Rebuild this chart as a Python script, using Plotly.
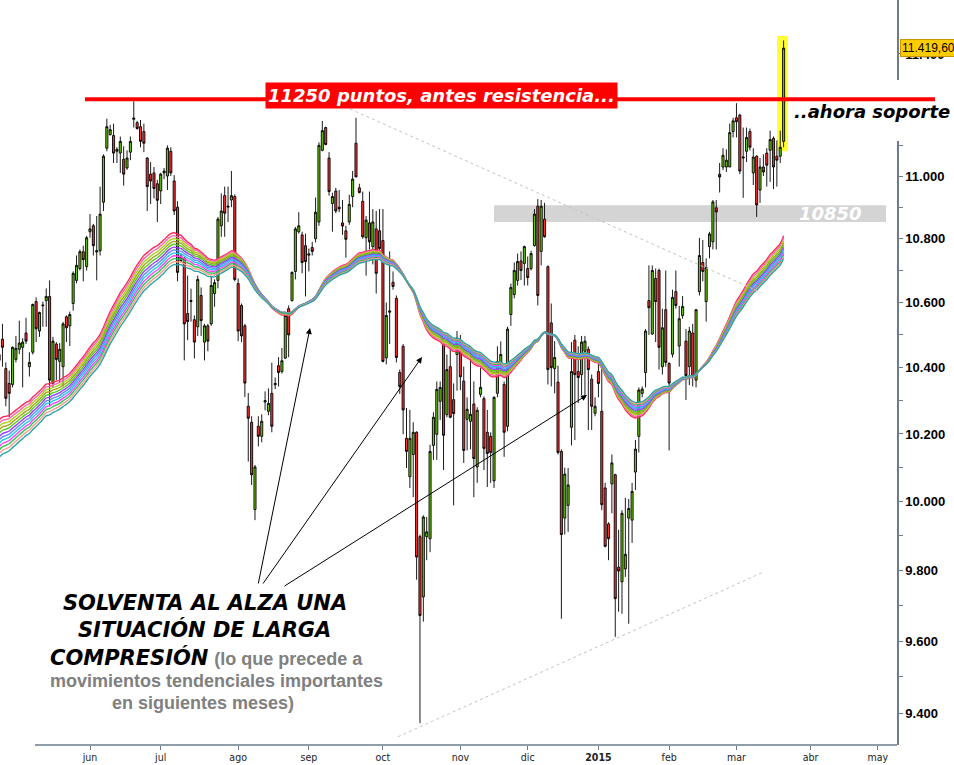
import math
import pandas as pd
import plotly.graph_objects as go

# ---------------- data ----------------
first_session = "2014-04-23"
last_calendar_day = "2015-05-29"
market_holidays = ["2014-05-01", "2014-12-25", "2014-12-26", "2015-01-01",
                   "2015-04-03", "2015-04-06", "2015-05-01"]

open_ = [10440, 10487, 10397, 10352, 10349, 10425, 10456, 10462, 10506, 10403,
         10447, 10603, 10512, 10590, 10606, 10619, 10353, 10472, 10419, 10403,
         10556, 10528, 10597, 10669, 10706, 10759, 10712,
         10822, 10841, 10758, 10762, 10916, 11090, 11134, 11131, 11080, 11074,
         11054, 11026, 11077, 11184, 11173, 11160, 11144, 11058, 11006, 11010,
         10975, 10952, 11010, 11000, 11080, 10984, 10900, 10745, 10738, 10566,
         10603, 10547, 10525, 10622, 10478, 10528, 10534, 10628, 10669, 10841,
         10937, 10900, 10923, 10934, 10659, 10591, 10528, 10283, 10235, 9977,
         10223, 10193, 10296, 10268, 10322, 10348, 10406, 10388, 10429, 10581,
         10606, 10697, 10822, 10812, 10778, 10748, 10772, 10800, 10853, 11083,
         11157, 11058, 10912, 10952, 10900, 10850, 10825, 10853, 10934, 11106,
         10962, 10919, 10803, 10850, 10775, 10831, 10825, 10794, 10430, 10570,
         10663, 10613, 10385, 10465, 10187, 10073, 10139, 10205, 9898, 9725,
         9898, 9892, 10166, 10199, 10298, 10472, 10258, 10403, 10303, 10440,
         10450, 10359, 10244, 10238, 10290, 10102, 10319, 10306, 10205, 10193,
         10061, 10322, 10410, 10349, 10223, 10563, 10625, 10669, 10730, 10722,
         10706, 10706, 10778, 10903, 10760, 10862, 10712, 10537, 10397, 10356,
         10148, 9952, 9989, 10220, 10484, 10388, 10379, 10450, 10456, 10365,
         10262, 10388, 10268, 10040, 9935, 10052, 10079, 9810, 9768, 9805,
         9952, 9946, 10087, 10193, 10322, 10385, 10606, 10503, 10675, 10700,
         10403, 10578, 10413, 10441, 10634, 10466, 10560, 10481, 10403, 10506,
         10362, 10634, 10725, 10603, 10775, 10790, 10898, 11006, 11029, 11029,
         11029, 11144, 11189, 11198, 11058, 11080, 11144, 11010, 11064, 10955,
         11029, 11074, 11083, 11122, 11064, 11064, 11112]
high_ = [10448, 10534, 10416, 10391, 10465, 10497, 10544, 10490, 10553, 10447,
         10597, 10616, 10572, 10603, 10644, 10669, 10494, 10478, 10475, 10540,
         10560, 10572, 10697, 10747, 10766, 10778, 10809,
         10878, 10847, 10872, 10966, 11070, 11186, 11166, 11170, 11093, 11128,
         11096, 11083, 11128, 11243, 11179, 11182, 11170, 11061, 11045, 11029,
         10987, 11010, 11026, 11099, 11093, 11003, 10919, 10752, 10742, 10684,
         10643, 10560, 10684, 10647, 10534, 10534, 10681, 10672, 10869, 10944,
         10966, 10966, 11016, 10941, 10675, 10597, 10534, 10323, 10253, 10108,
         10253, 10259, 10328, 10337, 10415, 10370, 10432, 10460, 10566, 10591,
         10697, 10837, 10884, 10822, 10816, 10769, 10790, 10931, 11109, 11179,
         11160, 11077, 10946, 10962, 10955, 10923, 10841, 10940, 11016, 11189,
         10975, 10950, 10872, 10950, 10894, 10888, 10894, 10894, 10600, 10760,
         10697, 10622, 10394, 10472, 10278, 10272, 10235, 10208, 9904, 9960,
         9955, 10168, 10265, 10358, 10358, 10478, 10440, 10456, 10352, 10512,
         10500, 10403, 10310, 10454, 10358, 10280, 10400, 10313, 10272, 10205,
         10313, 10465, 10480, 10358, 10525, 10659, 10725, 10753, 10760, 10778,
         10744, 10762, 10894, 10926, 10923, 10914, 10716, 10597, 10481, 10406,
         10154, 10100, 10099, 10478, 10500, 10465, 10497, 10497, 10465, 10379,
         10310, 10415, 10412, 10055, 9940, 10139, 10082, 9918, 9975, 10011,
         10008, 10055, 10182, 10340, 10343, 10518, 10716, 10716, 10706, 10706,
         10581, 10700, 10416, 10640, 10700, 10590, 10620, 10518, 10525, 10534,
         10580, 10802, 10796, 10738, 10822, 10923, 10923, 11042, 11090, 11086,
         11170, 11189, 11237, 11202, 11157, 11157, 11154, 11090, 11067, 11058,
         11070, 11090, 11147, 11128, 11115, 11147, 11445]
low_ = [10403, 10403, 10283, 10250, 10340, 10416, 10441, 10340, 10472, 10373,
        10440, 10478, 10494, 10525, 10525, 10283, 10340, 10362, 10353, 10343,
        10478, 10466, 10575, 10660, 10700, 10666, 10700,
        10803, 10747, 10669, 10747, 10888, 11080, 11131, 11042, 11042, 11010,
        10969, 11020, 11051, 11157, 11150, 11093, 11077, 10888, 10910, 10928,
        10853, 10910, 10990, 10955, 11000, 10875, 10666, 10725, 10422, 10484,
        10541, 10428, 10497, 10497, 10422, 10450, 10528, 10587, 10644, 10806,
        10806, 10853, 10900, 10666, 10481, 10478, 10311, 10118, 10049, 9946,
        10163, 10175, 10271, 10256, 10205, 10335, 10343, 10382, 10426, 10432,
        10603, 10672, 10816, 10691, 10619, 10697, 10747, 10788, 10841, 11080,
        11099, 10937, 10822, 10881, 10884, 10812, 10740, 10844, 10900, 10997,
        10944, 10800, 10684, 10766, 10719, 10628, 10747, 10416, 10410, 10472,
        10640, 10416, 10320, 10199, 10099, 10040, 10013, 9774, 9372, 9655,
        9830, 9853, 10123, 10123, 10242, 10093, 10250, 10247, 9989, 10330,
        10332, 10114, 10151, 10154, 10013, 10055, 10310, 10093, 10043, 10055,
        10040, 10310, 10380, 10132, 10208, 10528, 10613, 10653, 10670, 10653,
        10653, 10700, 10775, 10591, 10716, 10803, 10349, 10343, 10322, 10139,
        9663, 9904, 9912, 10166, 10182, 10293, 10317, 10310, 10212, 10212,
        10253, 10310, 9975, 9867, 9830, 9966, 9612, 9683, 9677, 9782,
        9649, 9880, 10034, 10145, 10310, 10340, 10500, 10500, 10478, 10394,
        10379, 10403, 10151, 10431, 10581, 10403, 10550, 10302, 10347, 10343,
        10340, 10622, 10666, 10541, 10738, 10766, 10766, 10947, 11019, 11013,
        11029, 11125, 11125, 11006, 10930, 11045, 11083, 10971, 10869, 10914,
        11000, 10966, 10981, 10958, 10966, 11042, 11093]
close_ = [10422, 10462, 10307, 10322, 10462, 10459, 10475, 10478, 10481, 10416,
          10594, 10519, 10569, 10592, 10619, 10362, 10481, 10425, 10456, 10534,
          10522, 10563, 10691, 10716, 10759, 10734, 10803,
          10831, 10778, 10762, 10878, 11064, 11160, 11150, 11074, 11086, 11112,
          11006, 11058, 11112, 11188, 11154, 11112, 11106, 10966, 10984, 10960,
          10922, 11006, 11016, 11090, 11010, 10888, 10694, 10730, 10534, 10541,
          10606, 10478, 10672, 10544, 10528, 10481, 10653, 10662, 10862, 10888,
          10881, 10903, 10937, 10672, 10512, 10497, 10353, 10247, 10079, 10102,
          10193, 10238, 10300, 10292, 10223, 10352, 10385, 10421, 10560, 10500,
          10694, 10831, 10841, 10725, 10728, 10752, 10760, 10884, 11099, 11147,
          11102, 10950, 10934, 10888, 10895, 10840, 10798, 10909, 10990, 10997,
          10947, 10806, 10859, 10790, 10853, 10691, 10769, 10419, 10560, 10574,
          10650, 10431, 10343, 10272, 10148, 10187, 10205, 9839, 9672, 9955,
          9912, 10148, 10250, 10334, 10340, 10196, 10394, 10250, 10261, 10490,
          10372, 10151, 10274, 10259, 10127, 10271, 10340, 10157, 10142, 10145,
          10310, 10418, 10440, 10205, 10518, 10647, 10700, 10728, 10700, 10775,
          10678, 10753, 10878, 10622, 10903, 10806, 10394, 10400, 10431, 10145,
          9904, 10081, 10049, 10388, 10379, 10370, 10478, 10481, 10394, 10283,
          10283, 10352, 9991, 9870, 9892, 10114, 9720, 9799, 9966, 9847,
          9980, 10030, 10155, 10332, 10335, 10512, 10584, 10700, 10603, 10462,
          10522, 10416, 10353, 10616, 10591, 10550, 10588, 10376, 10512, 10373,
          10578, 10747, 10697, 10709, 10815, 10917, 10885, 10997, 11067, 11051,
          11141, 11179, 11176, 11016, 11061, 11125, 11093, 11061, 10907, 11029,
          11013, 11035, 11118, 11029, 11051, 11093, 11419.6]

# moving-average ribbon (EMA periods, fastest first) and their values at the first session
ema_periods = [50, 51.5, 53, 54.5, 56, 57.5, 59, 60.5, 62, 63.5, 65, 66.5]
ribbon_start = [10242, 10232, 10222, 10212, 10202, 10192, 10182, 10172, 10162, 10152, 10141, 10130]
ribbon_colors = ["#ff2a5a", "#ff66b0", "#a6d61a", "#a3a320", "#55cc22", "#9a3cff",
                 "#5f8cff", "#22c8f0", "#ff40ff", "#2fc35a", "#ff9a8a", "#2aa5a5"]

month_keys = ["2014-06", "2014-07", "2014-08", "2014-09", "2014-10", "2014-11", "2014-12",
              "2015-01", "2015-02", "2015-03", "2015-04", "2015-05"]
month_labels = ["jun", "jul", "ago", "sep", "oct", "nov", "dic", "<b>2015</b>",
                "feb", "mar", "abr", "may"]

resistance_level = 11250
support_band = (10853, 10906)
last_price_text = "11.419,60"
y_tick_values = list(range(9400, 11401, 100))

# ---------------- calendar ----------------
cal = pd.bdate_range(first_session, last_calendar_day, freq="C", holidays=market_holidays)
n = len(close_)
xs = list(range(n))
pos_of_month = {}
for p, d in enumerate(cal):
    k = d.strftime("%Y-%m")
    if k not in pos_of_month:
        pos_of_month[k] = p
tickvals_x = [pos_of_month[k] for k in month_keys]

# ---------------- ribbon ----------------
fig = go.Figure()
for per, start, col in zip(ema_periods, ribbon_start, ribbon_colors):
    a = 2.0 / (per + 1)
    e = start
    vals = [e]
    for c in close_[1:]:
        e = e + a * (c - e)
        vals.append(e)
    fig.add_trace(go.Scatter(x=xs, y=vals, mode="lines",
                             line=dict(color=col, width=1.4, shape="spline"),
                             hoverinfo="skip"))

fig.add_trace(go.Candlestick(
    x=xs, open=open_, high=high_, low=low_, close=close_,
    increasing=dict(line=dict(color="black", width=0.9), fillcolor="#66cc00"),
    decreasing=dict(line=dict(color="black", width=0.9), fillcolor="#ff3030"),
    whiskerwidth=0, hoverinfo="skip"))

# ---------------- geometry helpers ----------------
PW, PH = 897.0, 745.0
X0 = 27 - 90 / 3.367
X1 = 27 + (PW - 90) / 3.367
def px(v):
    return v / PW
def py(v):
    return 1 - v / PH
def xi(pix):
    return X0 + pix / PW * (X1 - X0)
L = math.log10

shapes = [
    dict(type="rect", xref="x", yref="y", x0=xi(494), x1=xi(886),
         y0=support_band[0], y1=support_band[1], fillcolor="#d4d4d4",
         line=dict(width=0), layer="below"),
    dict(type="rect", xref="x", yref="y", x0=xi(777), x1=xi(788),
         y0=11080, y1=11460, fillcolor="#ffff33", line=dict(width=0), layer="below"),
    dict(type="line", xref="x", yref="y", x0=xi(350), y0=11218, x1=xi(762), y1=10630,
         line=dict(color="#c4c4c4", width=1, dash="dot")),
    dict(type="line", xref="x", yref="y", x0=xi(398), y0=9335, x1=xi(762), y1=9794,
         line=dict(color="#c4c4c4", width=1, dash="dot")),
    dict(type="line", xref="paper", yref="paper", x0=px(35), x1=1, y0=0, y1=0,
         line=dict(color="#6c7c8c", width=1.5)),
    dict(type="rect", xref="paper", yref="paper", x0=px(893), x1=px(904),
         y0=py(141), y1=py(80), fillcolor="white", line=dict(width=0)),
    dict(type="line", xref="paper", yref="y", x0=px(85), x1=px(935),
         y0=resistance_level, y1=resistance_level, line=dict(color="#ff0000", width=4)),
]

LBL = "DejaVu Sans"
ann = []
ann.append(dict(xref="paper", yref="paper", x=px(441), y=py(95), xanchor="center",
                yanchor="middle", showarrow=False,
                text="<b><i>11250 puntos, antes resistencia...</i></b>",
                font=dict(family=LBL, size=18, color="white"),
                bgcolor="#ff0000", borderpad=2))
ann.append(dict(xref="paper", yref="paper", x=px(872), y=py(112), xanchor="center",
                yanchor="middle", showarrow=False,
                text="<b><i>..ahora soporte</i></b>",
                font=dict(family=LBL, size=18, color="black")))
ann.append(dict(xref="paper", yref="paper", x=px(830), y=py(214), xanchor="center",
                yanchor="middle", showarrow=False,
                text="<b><i>10850</i></b>",
                font=dict(family=LBL, size=18, color="white")))
ann.append(dict(xref="paper", yref="y", x=px(900), y=L(11419.6), xanchor="left",
                yanchor="middle", showarrow=False, text=last_price_text,
                font=dict(family="Liberation Sans, Arial", size=12, color="black"),
                bgcolor="#ffcc00", bordercolor="#c89400", borderwidth=1, borderpad=1))

blk = "font-family:'DejaVu Sans';font-size:21px;color:black"
gry = "font-family:'Liberation Sans';font-size:18px;color:#808080"
lines = [
    (603, 205, f'<span style="{blk}"><b><i>SOLVENTA AL ALZA UNA</i></b></span>'),
    (629, 204, f'<span style="{blk}"><b><i>SITUACIÓN DE LARGA</i></b></span>'),
    (657, 206, f'<span style="{blk}"><b><i>COMPRESIÓN</i></b></span> <span style="{gry}"><b>(lo que precede a</b></span>'),
    (681, 216, f'<span style="{gry}"><b>movimientos tendenciales importantes</b></span>'),
    (703, 203, f'<span style="{gry}"><b>en siguientes meses)</b></span>'),
]
for yy, xx, t in lines:
    ann.append(dict(xref="paper", yref="paper", x=px(xx), y=py(yy), xanchor="center",
                    yanchor="middle", showarrow=False,
                    text=t, font=dict(family="DejaVu Sans", size=18, color="black")))

arrows = [((310, 328), (258, 585)), ((422, 357), (262, 585)), ((587, 395), (283, 587))]
for (hx, hy), (tx, ty) in arrows:
    ann.append(dict(xref="paper", yref="paper", x=px(hx), y=py(hy),
                    axref="pixel", ayref="pixel", ax=tx - hx, ay=ty - hy,
                    text="", showarrow=True, arrowhead=2, standoff=0, startstandoff=0,
                    arrowsize=1.2, arrowwidth=1, arrowcolor="black",
                    font=dict(size=1)))

def ylab(v):
    if v % 200 != 0 or v == 11200:
        return ""
    return f"{v // 1000}.{v % 1000:03d}"

fig.update_layout(
    width=954, height=765, margin=dict(l=0, r=57, t=0, b=20, autoexpand=False),
    paper_bgcolor="white", plot_bgcolor="white", showlegend=False, hovermode=False,
    boxgap=0.12,
    shapes=shapes, annotations=ann,
    xaxis=dict(range=[X0, X1], tickvals=tickvals_x, ticktext=month_labels,
               ticks="outside", ticklen=4, tickcolor="#6c7c8c", showgrid=False,
               zeroline=False, showline=False, rangeslider=dict(visible=False),
               automargin=False, ticklabelstandoff=-2,
               tickfont=dict(family="Liberation Sans Narrow, DejaVu Sans Condensed, Arial Narrow",
                             size=10.5, color="#222222")),
    yaxis=dict(type="log", side="right", range=[3.969063, 4.063766],
               tickvals=y_tick_values, ticktext=[ylab(v) for v in y_tick_values],
               ticks="outside", ticklen=4, tickcolor="#6c7c8c", showline=True,
               linecolor="#6c7c8c", linewidth=1.5, showgrid=False, zeroline=False,
               automargin=False,
               tickfont=dict(family="Liberation Sans, Arial", size=13, color="black",
                             weight="bold")),
)

fig.write_html("out.html", config={"displayModeBar": False},
               post_script="document.body.style.margin='0px';document.body.style.overflow='hidden';")
